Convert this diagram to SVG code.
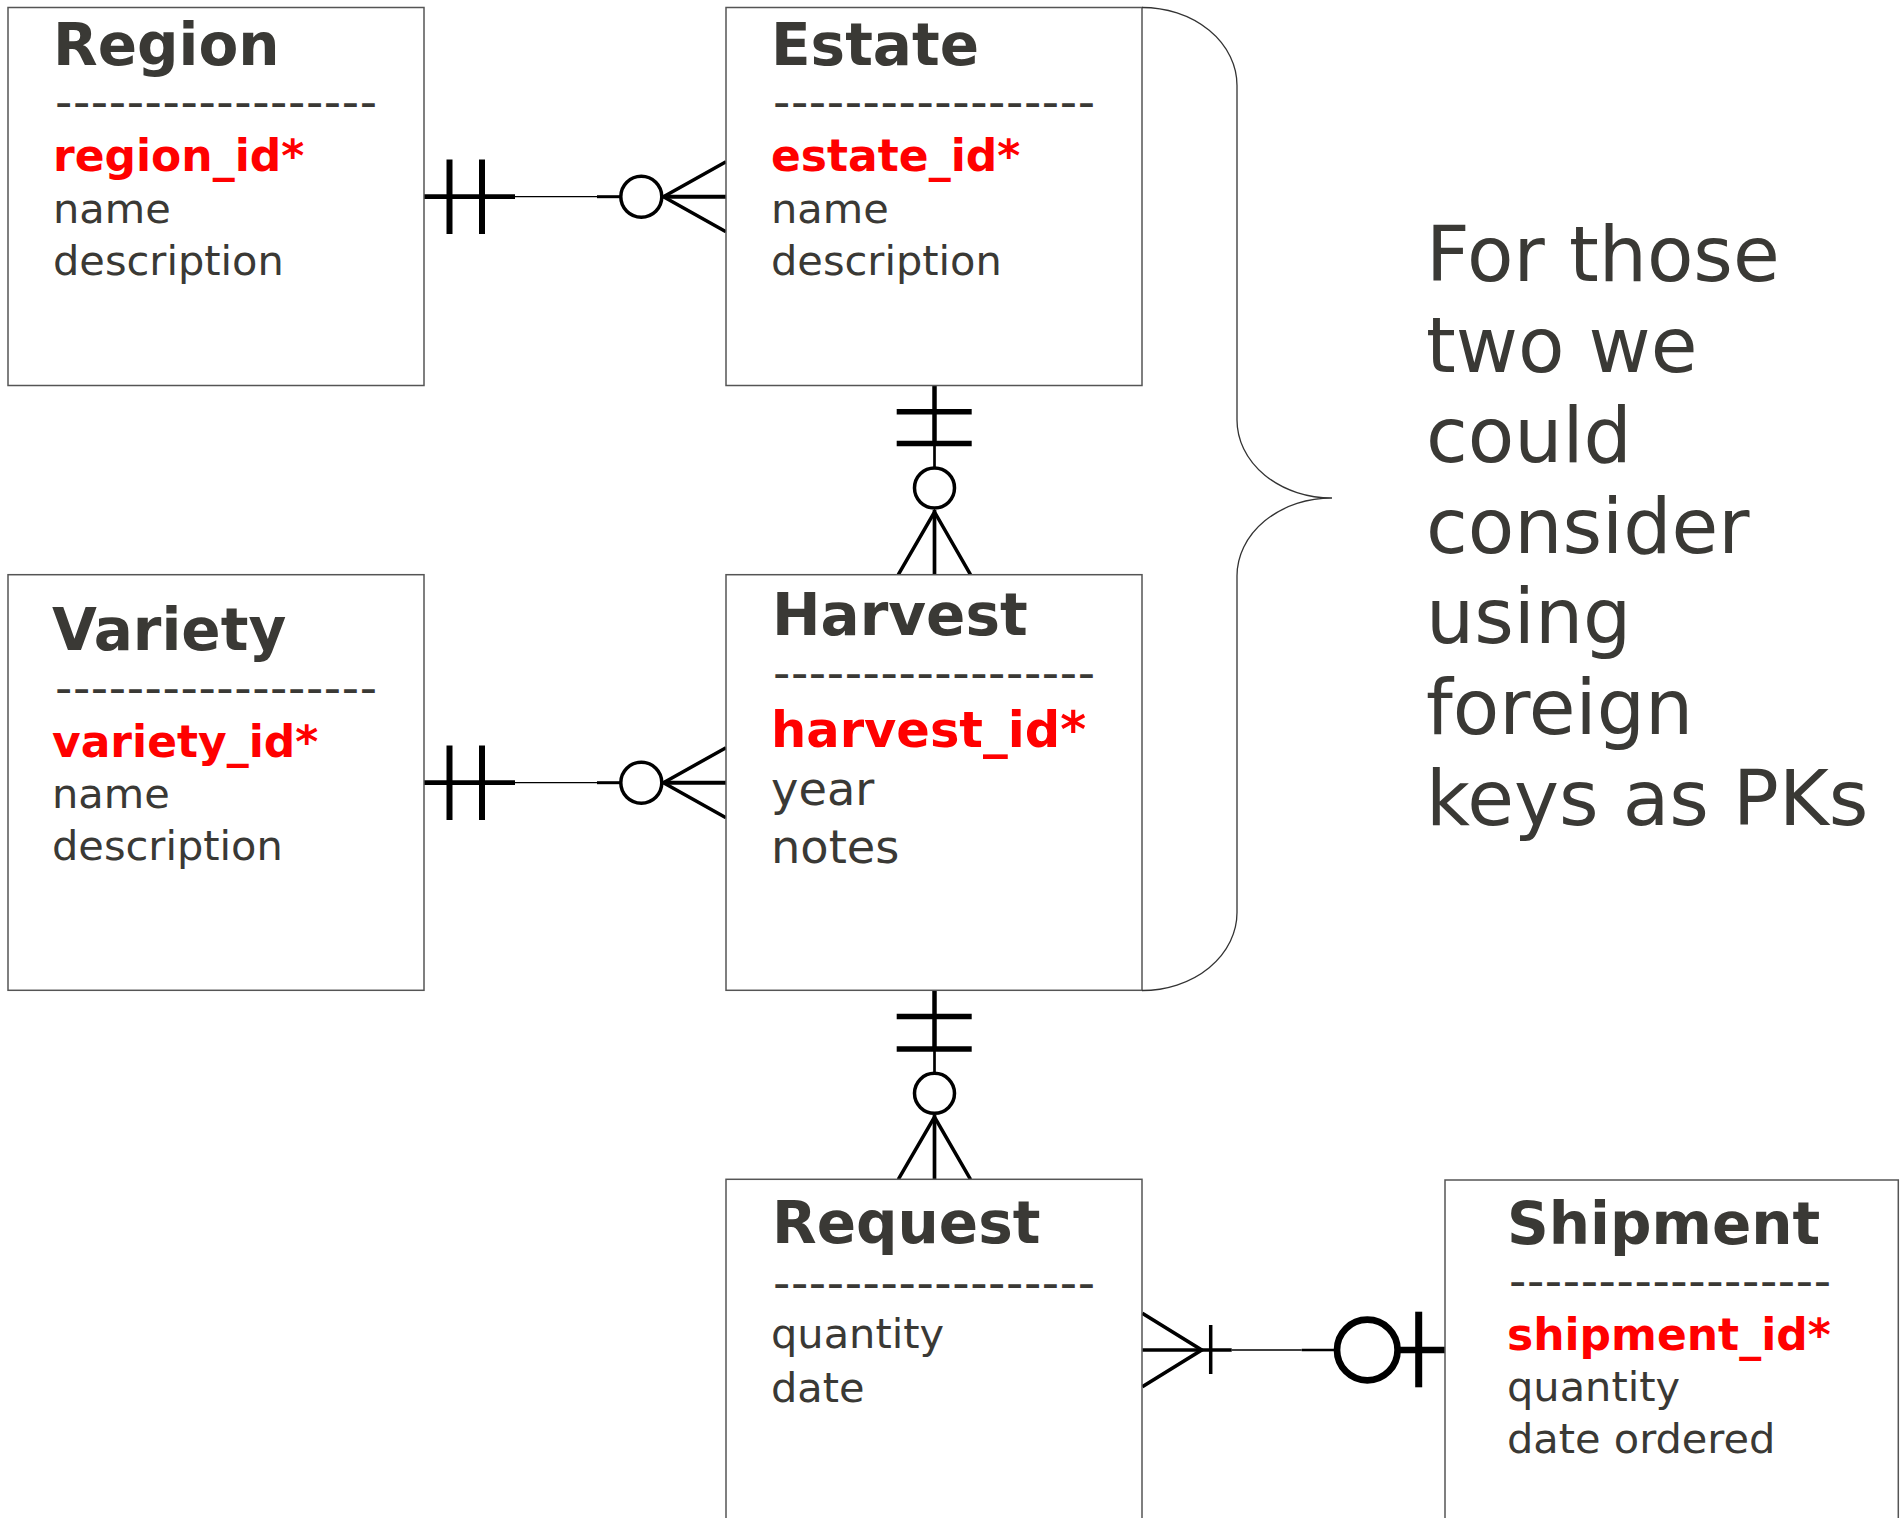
<svg xmlns="http://www.w3.org/2000/svg" width="1901" height="1518" viewBox="0 0 1901 1518">
  <style>
    .box { fill: #ffffff; stroke: #555555; stroke-width: 1.5; }
    .title { font-family: "DejaVu Sans", Verdana, sans-serif; font-weight: bold; font-size: 58px; fill: #3a3935; }
    .sep { font-family: "DejaVu Sans", Verdana, sans-serif; font-size: 48px; fill: #3a3935; }
    .key { font-family: "DejaVu Sans", Verdana, sans-serif; font-weight: bold; font-size: 44px; fill: #ff0000; }
    .attr { font-family: "DejaVu Sans", Verdana, sans-serif; font-size: 41.5px; fill: #3a3935; }
    .key-lg { font-family: "DejaVu Sans", Verdana, sans-serif; font-weight: bold; font-size: 49.5px; fill: #ff0000; }
    .attr-lg { font-family: "DejaVu Sans", Verdana, sans-serif; font-size: 46.3px; fill: #3a3935; }
    .note { font-family: "DejaVu Sans", Verdana, sans-serif; font-size: 76px; fill: #3a3935; }
    .ln { stroke: #000000; fill: none; stroke-linecap: butt; }
    .ring { stroke: #000000; fill: #ffffff; }
    .brace { stroke: #333333; stroke-width: 1.3; fill: none; }
  </style>

  <!-- connectors between entities -->
  <g id="connectors">
    <!-- Region (one) to Estate (zero or many) -->
    <g id="rel-region-estate">
      <line class="ln" x1="424" y1="196.7" x2="515" y2="196.7" stroke-width="4.7"/>
      <line class="ln" x1="449.5" y1="159.5" x2="449.5" y2="234" stroke-width="6"/>
      <line class="ln" x1="482" y1="159.5" x2="482" y2="234" stroke-width="6"/>
      <line class="ln" x1="515" y1="196.7" x2="597" y2="196.7" stroke-width="1.3"/>
      <line class="ln" x1="597" y1="196.7" x2="621" y2="196.7" stroke-width="3"/>
      <circle class="ring" cx="641.3" cy="196.7" r="20.5" stroke-width="3.5"/>
      <polyline class="ln" points="726,161.7 663.5,196.7 726,231.7" stroke-width="3.5"/>
      <line class="ln" x1="663.5" y1="196.7" x2="726" y2="196.7" stroke-width="4"/>
    </g>
    <!-- Variety (one) to Harvest (zero or many) -->
    <g id="rel-variety-harvest">
      <line class="ln" x1="424" y1="782.7" x2="515" y2="782.7" stroke-width="4.7"/>
      <line class="ln" x1="449.5" y1="745.5" x2="449.5" y2="820" stroke-width="6"/>
      <line class="ln" x1="482" y1="745.5" x2="482" y2="820" stroke-width="6"/>
      <line class="ln" x1="515" y1="782.7" x2="597" y2="782.7" stroke-width="1.3"/>
      <line class="ln" x1="597" y1="782.7" x2="621" y2="782.7" stroke-width="3"/>
      <circle class="ring" cx="641.3" cy="782.7" r="20.5" stroke-width="3.5"/>
      <polyline class="ln" points="726,747.7 663.5,782.7 726,817.7" stroke-width="3.5"/>
      <line class="ln" x1="663.5" y1="782.7" x2="726" y2="782.7" stroke-width="4"/>
    </g>
    <!-- Estate (one) to Harvest (zero or many) -->
    <g id="rel-estate-harvest">
      <line class="ln" x1="934.5" y1="385" x2="934.5" y2="443.5" stroke-width="4.5"/>
      <line class="ln" x1="896.7" y1="411.7" x2="971.7" y2="411.7" stroke-width="5.5"/>
      <line class="ln" x1="896.7" y1="443.5" x2="971.7" y2="443.5" stroke-width="5.5"/>
      <line class="ln" x1="934.5" y1="443.5" x2="934.5" y2="476" stroke-width="2.7"/>
      <circle class="ring" cx="934.5" cy="488" r="20" stroke-width="3.5"/>
      <polyline class="ln" points="898.3,574.7 934.5,512 970.5,574.7" stroke-width="3.5"/>
      <line class="ln" x1="934.5" y1="510" x2="934.5" y2="574.7" stroke-width="3.7"/>
    </g>
    <!-- Harvest (one) to Request (zero or many) -->
    <g id="rel-harvest-request">
      <line class="ln" x1="934.5" y1="990.3" x2="934.5" y2="1049" stroke-width="4.5"/>
      <line class="ln" x1="896.7" y1="1016.5" x2="971.7" y2="1016.5" stroke-width="5.5"/>
      <line class="ln" x1="896.7" y1="1049" x2="971.7" y2="1049" stroke-width="5.5"/>
      <line class="ln" x1="934.5" y1="1049" x2="934.5" y2="1081" stroke-width="2.7"/>
      <circle class="ring" cx="934.5" cy="1093.3" r="20" stroke-width="3.5"/>
      <polyline class="ln" points="898.3,1179.3 934.5,1117 970.5,1179.3" stroke-width="3.5"/>
      <line class="ln" x1="934.5" y1="1115" x2="934.5" y2="1179.3" stroke-width="3.7"/>
    </g>
    <!-- Request (one or many) to Shipment (zero or one) -->
    <g id="rel-request-shipment">
      <polyline class="ln" points="1142.3,1313.3 1201.7,1350 1142.3,1386.7" stroke-width="3.7"/>
      <line class="ln" x1="1142.3" y1="1350" x2="1231.7" y2="1350" stroke-width="3.7"/>
      <line class="ln" x1="1210.7" y1="1325" x2="1210.7" y2="1374" stroke-width="3.5"/>
      <line class="ln" x1="1231.7" y1="1350" x2="1301.7" y2="1350" stroke-width="1.3"/>
      <line class="ln" x1="1301.7" y1="1350" x2="1338" y2="1350" stroke-width="2.7"/>
      <circle class="ring" cx="1367.3" cy="1350" r="30.3" stroke-width="6.7"/>
      <line class="ln" x1="1397" y1="1350" x2="1445" y2="1350" stroke-width="6.7"/>
      <line class="ln" x1="1418.7" y1="1311.7" x2="1418.7" y2="1387.3" stroke-width="7"/>
    </g>
  </g>

  <!-- entities -->
  <g id="region">
    <rect class="box" x="8" y="7.5" width="416" height="378"/>
    <text class="title" x="53" y="65">Region</text>
    <text class="sep" x="55" y="118" textLength="322" lengthAdjust="spacing">------------------</text>
    <text class="key" x="53" y="171">region_id*</text>
    <text class="attr" x="53" y="223">name</text>
    <text class="attr" x="53" y="275">description</text>
  </g>

  <g id="estate">
    <rect class="box" x="726" y="7.5" width="416" height="378"/>
    <text class="title" x="771" y="65">Estate</text>
    <text class="sep" x="773" y="118" textLength="322" lengthAdjust="spacing">------------------</text>
    <text class="key" x="771" y="171">estate_id*</text>
    <text class="attr" x="771" y="223">name</text>
    <text class="attr" x="771" y="275">description</text>
  </g>

  <g id="variety">
    <rect class="box" x="8" y="574.7" width="416" height="415.6"/>
    <text class="title" x="52" y="650">Variety</text>
    <text class="sep" x="55" y="703.7" textLength="322" lengthAdjust="spacing">------------------</text>
    <text class="key" x="52" y="756.7">variety_id*</text>
    <text class="attr" x="52" y="808.3">name</text>
    <text class="attr" x="52" y="860">description</text>
  </g>

  <g id="harvest">
    <rect class="box" x="726" y="574.7" width="416" height="415.6"/>
    <text class="title" x="772" y="635">Harvest</text>
    <text class="sep" x="773" y="688.7" textLength="322" lengthAdjust="spacing">------------------</text>
    <text class="key-lg" x="771" y="746.7">harvest_id*</text>
    <text class="attr-lg" x="771" y="805">year</text>
    <text class="attr-lg" x="771" y="863.3">notes</text>
  </g>

  <g id="request">
    <rect class="box" x="726" y="1179.3" width="416" height="360"/>
    <text class="title" x="772" y="1243.3">Request</text>
    <text class="sep" x="773" y="1298.7" textLength="322" lengthAdjust="spacing">------------------</text>
    <text class="attr" x="771" y="1348.3">quantity</text>
    <text class="attr" x="771" y="1401.7">date</text>
  </g>

  <g id="shipment">
    <rect class="box" x="1445" y="1180" width="453.3" height="360"/>
    <text class="title" x="1507" y="1244">Shipment</text>
    <text class="sep" x="1509" y="1297" textLength="322" lengthAdjust="spacing">------------------</text>
    <text class="key" x="1507" y="1350">shipment_id*</text>
    <text class="attr" x="1507" y="1401">quantity</text>
    <text class="attr" x="1507" y="1453">date ordered</text>
  </g>

  <!-- curly brace grouping Estate and Harvest -->
  <g id="brace">
    <path class="brace" d="M1142,7.5 A95,78 0 0 1 1237,85.5 L1237,420 A95,78 0 0 0 1332,498 A95,78 0 0 0 1237,576 L1237,912.5 A95,78 0 0 1 1142,990.5"/>
  </g>

  <!-- side annotation -->
  <g id="annotation">
    <text class="note" x="1426" y="281">For those</text>
    <text class="note" x="1426" y="371.6">two we</text>
    <text class="note" x="1426" y="462.2">could</text>
    <text class="note" x="1426" y="552.8">consider</text>
    <text class="note" x="1426" y="643.4">using</text>
    <text class="note" x="1426" y="734">foreign</text>
    <text class="note" x="1426" y="824.6">keys as PKs</text>
  </g>
</svg>
